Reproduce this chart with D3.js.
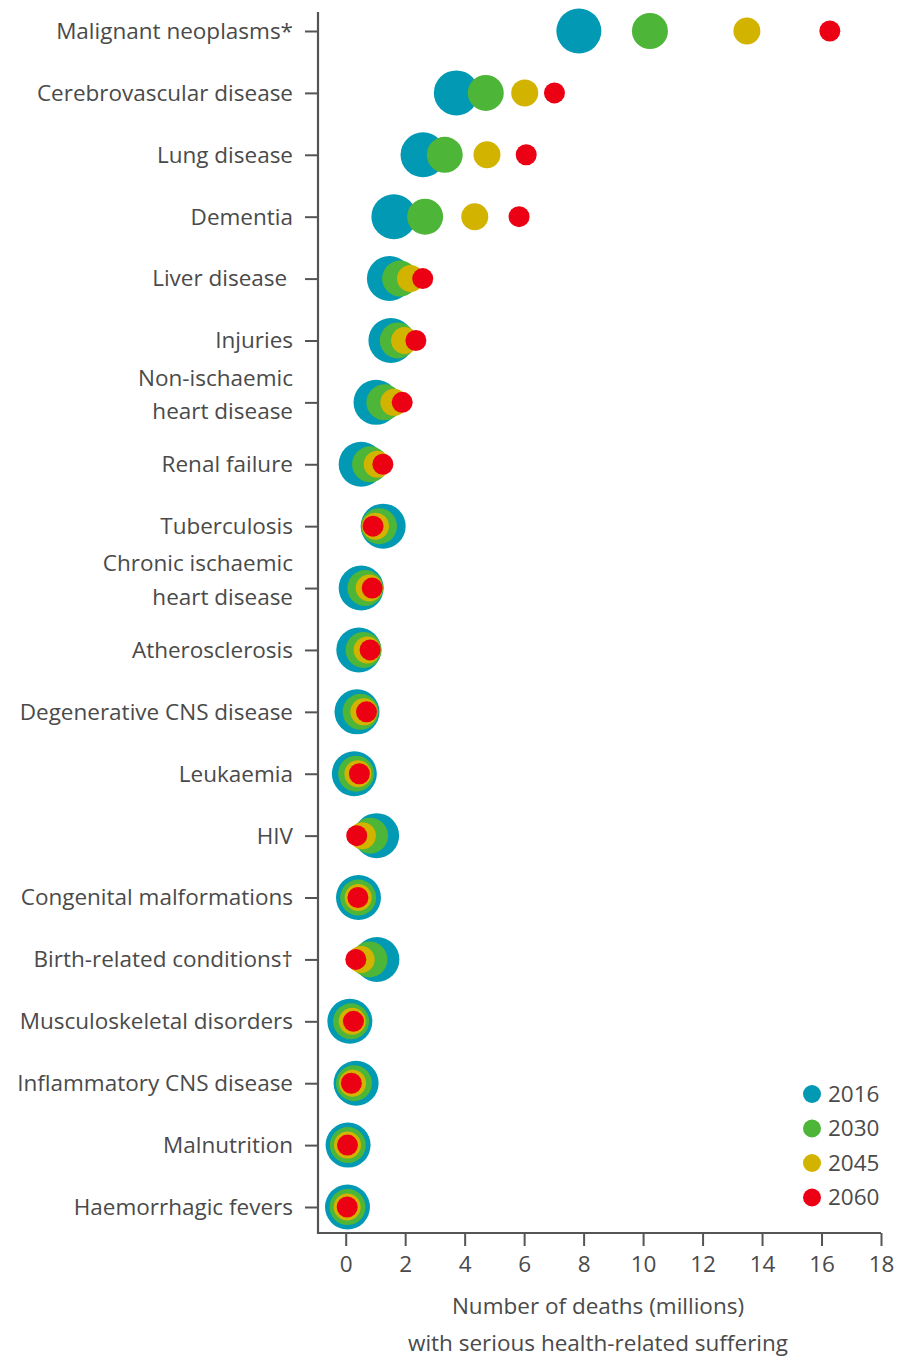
<!DOCTYPE html>
<html>
<head>
<meta charset="utf-8">
<script src="https://cdn.jsdelivr.net/npm/d3@7"></script>
<style>
  html, body { margin: 0; padding: 0; background: #fff; }
  svg { display: block; }
  text { font-family: "Open Sans", "Noto Sans", sans-serif; fill: #4a4a4a; }
</style>
</head>
<body>
<svg id="chart" width="897" height="1359"></svg>
<script>
// Causes of death, top to bottom
const categories = [
  "Malignant neoplasms*",
  "Cerebrovascular disease",
  "Lung disease",
  "Dementia",
  "Liver disease\u00a0",
  "Injuries",
  "Non-ischaemic\nheart disease",
  "Renal failure",
  "Tuberculosis",
  "Chronic ischaemic\nheart disease",
  "Atherosclerosis",
  "Degenerative CNS disease",
  "Leukaemia",
  "HIV",
  "Congenital malformations",
  "Birth-related conditions\u2020",
  "Musculoskeletal disorders",
  "Inflammatory CNS disease",
  "Malnutrition",
  "Haemorrhagic fevers"
];

const years = ["2016", "2030", "2045", "2060"];

// Deaths with serious health-related suffering (millions), one array per year
const deaths2016 = [7.84, 3.72, 2.60, 1.62, 1.47, 1.52, 1.02, 0.52, 1.26, 0.52, 0.44, 0.38, 0.29, 1.04, 0.43, 1.05, 0.14, 0.35, 0.08, 0.06];
const deaths2030 = [10.23, 4.71, 3.33, 2.67, 1.83, 1.75, 1.30, 0.82, 1.12, 0.66, 0.60, 0.50, 0.35, 0.82, 0.42, 0.80, 0.18, 0.28, 0.07, 0.06];
const deaths2045 = [13.49, 6.02, 4.75, 4.34, 2.18, 1.98, 1.62, 1.06, 1.00, 0.79, 0.72, 0.61, 0.41, 0.56, 0.42, 0.52, 0.22, 0.23, 0.06, 0.05];
const deaths2060 = [16.28, 7.02, 6.07, 5.83, 2.59, 2.36, 1.90, 1.25, 0.92, 0.89, 0.82, 0.70, 0.46, 0.37, 0.41, 0.34, 0.26, 0.19, 0.06, 0.05];

const xTicks = [0, 2, 4, 6, 8, 10, 12, 14, 16, 18];
const axisTitle = ["Number of deaths (millions)", "with serious health-related suffering"];

const seriesByYear = { "2016": deaths2016, "2030": deaths2030, "2045": deaths2045, "2060": deaths2060 };

// Layout
const plotLeft = 318, plotRight = 881, plotTop = 12, plotBottom = 1233;
const svg = d3.select("#chart");

const x = d3.scaleLinear().domain([0, 18]).range([345.7, 881]);
const y = d3.scalePoint().domain(categories).range([31, 1207]);

const color = d3.scaleOrdinal().domain(years).range(["#0199b4", "#4db537", "#d2b400", "#ec0014"]);
const radius = d3.scaleOrdinal().domain(years).range([22.5, 18, 13.5, 10.5]);

const axisColor = "#555";
const fontSize = "22.5px";

// Bubbles: largest (earliest year) underneath, latest year on top
const points = [];
years.forEach(yr => {
  categories.forEach((c, i) => points.push({ year: yr, cat: c, value: seriesByYear[yr][i] }));
});

svg.append("g").selectAll("circle")
  .data(points)
  .join("circle")
  .attr("cx", d => x(d.value))
  .attr("cy", d => y(d.cat))
  .attr("r", d => radius(d.year))
  .attr("fill", d => color(d.year));

// Y axis
const yAxis = svg.append("g").attr("transform", `translate(${plotLeft},0)`)
  .call(d3.axisLeft(y).tickSize(13).tickFormat(() => ""));
yAxis.select(".domain").remove();
yAxis.selectAll(".tick line").attr("stroke", axisColor).attr("stroke-width", 2);

svg.append("line")
  .attr("x1", plotLeft).attr("x2", plotLeft)
  .attr("y1", plotTop).attr("y2", plotBottom + 1)
  .attr("stroke", axisColor).attr("stroke-width", 2.2);

// Category labels (some on two lines)
const labels = svg.append("g").attr("text-anchor", "end").style("font-size", fontSize);
categories.forEach(c => {
  const lines = c.split("\n");
  const t = labels.append("text")
    .attr("x", 293)
    .attr("y", y(c));
  if (lines.length === 1) {
    t.attr("dy", "0.35em").text(c);
  } else {
    t.append("tspan").attr("x", 293).attr("dy", "-0.74em").text(lines[0]);
    t.append("tspan").attr("x", 293).attr("dy", "1.5em").text(lines[1]);
  }
});

// X axis
const xAxis = svg.append("g").attr("transform", `translate(0,${plotBottom})`)
  .call(d3.axisBottom(x).tickValues(xTicks).tickSize(13).tickPadding(10).tickFormat(d3.format("d")));
xAxis.select(".domain").remove();
xAxis.selectAll(".tick line").attr("stroke", axisColor).attr("stroke-width", 2);
xAxis.selectAll(".tick text")
  .style("font-size", fontSize)
  .style("font-family", "\"Open Sans\", sans-serif")
  .attr("fill", "#4a4a4a");

svg.append("line")
  .attr("x1", plotLeft - 1).attr("x2", plotRight)
  .attr("y1", plotBottom).attr("y2", plotBottom)
  .attr("stroke", axisColor).attr("stroke-width", 2.2);

// Axis title
const title = svg.append("text").attr("text-anchor", "middle").style("font-size", fontSize);
axisTitle.forEach((line, i) => {
  title.append("tspan").attr("x", 598).attr("y", 1314 + i * 37).text(line);
});

// Legend
const legend = svg.append("g");
years.forEach((yr, i) => {
  const g = legend.append("g").attr("transform", `translate(812,${1094 + i * 34.5})`);
  g.append("circle").attr("r", 9).attr("fill", color(yr));
  g.append("text").attr("x", 16).attr("dy", "0.35em").style("font-size", fontSize).text(yr);
});
</script>
</body>
</html>
